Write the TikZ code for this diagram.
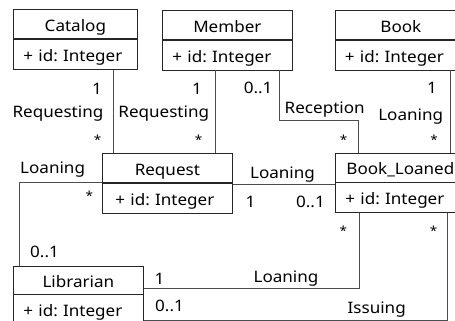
\documentclass[tikz,border=0pt]{standalone}
\usepackage{fontspec}
\setmainfont[FakeStretch=1.08]{Noto Sans}
\begin{document}
\frenchspacing
\begin{tikzpicture}[x=1pt,y=-1pt,
  every node/.style={font=\fontsize{15.8}{18}\selectfont, text=black},
  ctitle/.style={draw=black!85, line width=0.75pt, inner ysep=0pt, inner xsep=0pt,
    anchor=north west, text height=22pt, text depth=#1pt-22pt},
  ctitle/.default=29,
  cattr/.style={draw=black!85, line width=0.75pt, inner ysep=0pt, inner xsep=10pt,
    align=left, anchor=north west, text height=22pt, text depth=8pt},
  assoc/.style={draw=black!70, line width=0.9pt},
  lbl/.style={inner sep=0pt},
  many/.style={inner sep=0pt, anchor=north, font=\fontsize{12.5}{14}\selectfont}]
\useasboundingbox (0,0) rectangle (455,321);
\clip (0,0) rectangle (455,321);

% ---- classes ----
\node[ctitle, minimum width=124pt] (catT) at (13,9.5) {Catalog};
\node[cattr, text width=104pt] (catA) at (catT.south west) {+ id: Integer};

\node[ctitle, minimum width=130pt] (memT) at (162,10) {Member};
\node[cattr, text width=110pt] (memA) at (memT.south west) {+ id: Integer};

\node[ctitle, minimum width=132pt] (bookT) at (334.5,10) {Book};
\node[cattr, text width=112pt] (bookA) at (bookT.south west) {+ id: Integer};

\node[ctitle, minimum width=130pt] (reqT) at (102,153) {Request};
\node[cattr, text width=104pt, inner xsep=13pt] (reqA) at (reqT.south west) {+ id: Integer};

\node[ctitle, minimum width=130pt] (blT) at (335,152.5) {Book\_Loaned};
\node[cattr, text width=110pt] (blA) at (blT.south west) {+ id: Integer};

\node[ctitle=28, minimum width=130pt] (libT) at (13,265.5) {Librarian};
\node[cattr, text width=110pt] (libA) at (libT.south west) {+ id: Integer};

% ---- associations ----
\draw[assoc] (113,0 |- catA.south) -- (113,0 |- reqT.north);
\draw[assoc] (215,0 |- memA.south) -- (215,0 |- reqT.north);
\draw[assoc] (279,0 |- memA.south) -- (279,120.5) -- (358.5,120.5) -- (358.5,0 |- blT.north);
\draw[assoc] (450,0 |- bookA.south) -- (450,0 |- blT.north);
\draw[assoc] (reqA.east |- 0,184.5) -- (blA.west |- 0,184.5);
\draw[assoc] (reqT.south west) -- (19,0 |- reqT.south west) -- (19,0 |- libT.north);
\draw[assoc] (libT.east |- 0,288) -- (359,288) -- (359,0 |- blA.south);
\draw[assoc] (libA.east |- 0,320) -- (447,320) -- (447,0 |- blA.south);

% ---- role labels ----
% Catalog -- Request
\node[lbl, anchor=base east] at (102,94) {1};
\node[lbl, anchor=base east] at (103.5,117) {Requesting};
\node[many] at (97.5,135) {*};
% Member -- Request
\node[lbl, anchor=base east] at (202,94) {1};
\node[lbl, anchor=base east] at (209.3,117) {Requesting};
\node[many] at (198.7,135) {*};
% Member -- Book_Loaned
\node[lbl, anchor=base east] at (272.7,93.5) {0..1};
\node[lbl, anchor=base west] at (284.5,113.3) {Reception};
\node[many] at (343.7,135) {*};
% Book -- Book_Loaned
\node[lbl, anchor=base east] at (437,93.5) {1};
\node[lbl, anchor=base east] at (443.3,120) {Loaning};
\node[many] at (434,135) {*};
% Request -- Book_Loaned
\node[lbl, anchor=base] at (282.5,178.3) {Loaning};
\node[lbl, anchor=base west] at (245.5,207.5) {1};
\node[lbl, anchor=base east] at (325,207.5) {0..1};
% Request -- Librarian
\node[lbl, anchor=base west] at (20,173.3) {Loaning};
\node[many] at (89.3,190.7) {*};
\node[lbl, anchor=base west] at (30,257.7) {0..1};
% Librarian -- Book_Loaned (Loaning)
\node[lbl, anchor=base west] at (154.3,284.3) {1};
\node[lbl, anchor=base] at (286,282.3) {Loaning};
\node[many] at (343.3,226) {*};
% Librarian -- Book_Loaned (Issuing)
\node[lbl, anchor=base west] at (155,311.7) {0..1};
\node[lbl, anchor=base] at (376.7,313.5) {Issuing};
\node[many] at (433.5,226) {*};
\end{tikzpicture}
\end{document}
